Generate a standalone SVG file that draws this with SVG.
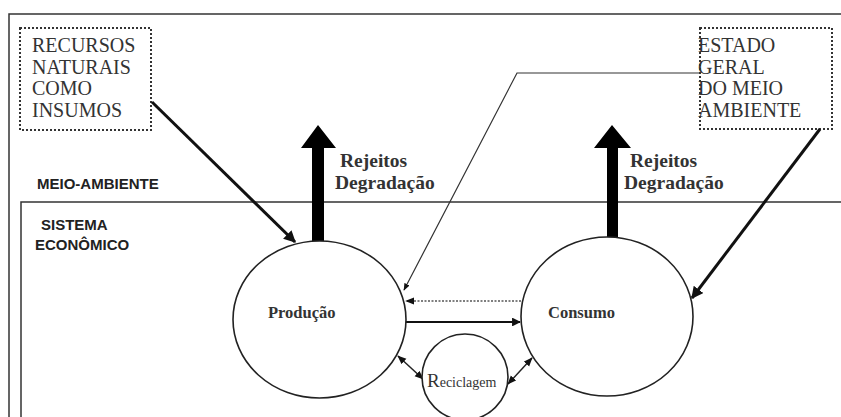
<svg xmlns="http://www.w3.org/2000/svg" width="841" height="417" viewBox="0 0 841 417">
<defs>
<style>
.box{fill:none;stroke:#333;stroke-width:1.5}
.dot{fill:none;stroke:#333;stroke-width:2;stroke-dasharray:2 2}
.node{fill:#fff;stroke:#222;stroke-width:1.6}
.serif{font-family:"Liberation Serif",serif;fill:#333;font-size:20px}
.lbl{font-family:"Liberation Serif",serif;font-weight:bold;fill:#333;font-size:19.5px}
.nl{font-family:"Liberation Serif",serif;font-weight:bold;fill:#333;font-size:16.5px}
.sans{font-family:"Liberation Sans",Arial,sans-serif;font-weight:bold;fill:#222;font-size:15px}
</style>
<marker id="ah" viewBox="0 0 10 10" refX="9" refY="5" markerWidth="4" markerHeight="4" orient="auto-start-reverse"><path d="M0,0 L10,5 L0,10 z" fill="#111"/></marker>
<marker id="ahs" viewBox="0 0 10 10" refX="9" refY="5" markerWidth="6" markerHeight="6" orient="auto-start-reverse"><path d="M0,1 L10,5 L0,9 z" fill="#111"/></marker>
</defs>
<rect width="841" height="417" fill="#fff"/>
<g id="frames">
<path class="box" d="M850,14 H9 V430"/>
<path class="box" d="M850,202 H21 V430"/>
<text class="sans" x="37" y="189">MEIO-AMBIENTE</text>
<text class="sans" x="41" y="230">SISTEMA</text>
<text class="sans" x="35" y="250">ECONÔMICO</text>
</g>
<g id="recursos">
<rect class="dot" x="20" y="28" width="131" height="102"/>
<text class="serif" x="32" y="52">RECURSOS</text>
<text class="serif" x="32" y="74">NATURAIS</text>
<text class="serif" x="32" y="95">COMO</text>
<text class="serif" x="32" y="117">INSUMOS</text>
</g>
<g id="estado">
<rect class="dot" x="700" y="28" width="132" height="101"/>
<text class="serif" x="698" y="52">ESTADO</text>
<text class="serif" x="698" y="74">GERAL</text>
<text class="serif" x="698" y="95">DO MEIO</text>
<text class="serif" x="698" y="117">AMBIENTE</text>
</g>
<g id="connectors">
<path d="M312,241 V148 H301 L318,125 L336,148 H324 V241 Z" fill="#000"/>
<path d="M607,237 V148 H594 L612,125 L631,148 H618 V237 Z" fill="#000"/>
<line x1="152" y1="102" x2="295" y2="242" stroke="#111" stroke-width="3" marker-end="url(#ah)"/>
<line x1="820" y1="129" x2="692" y2="298" stroke="#111" stroke-width="3" marker-end="url(#ah)"/>
<polyline points="699,73 517,73 404,290" fill="none" stroke="#333" stroke-width="1.2" marker-end="url(#ahs)"/>
<line x1="521" y1="301" x2="406" y2="301" stroke="#555" stroke-width="1.5" stroke-dasharray="2 1.5" marker-end="url(#ahs)"/>
<line x1="406" y1="322" x2="520" y2="322" stroke="#111" stroke-width="2.2" marker-end="url(#ah)"/>
<line x1="398" y1="356" x2="423" y2="379" stroke="#222" stroke-width="1.5" marker-start="url(#ahs)" marker-end="url(#ahs)"/>
<line x1="532" y1="358" x2="508" y2="384" stroke="#222" stroke-width="1.5" marker-start="url(#ahs)" marker-end="url(#ahs)"/>
<text class="lbl" x="340" y="167">Rejeitos</text>
<text class="lbl" x="335" y="189">Degradação</text>
<text class="lbl" x="630" y="167">Rejeitos</text>
<text class="lbl" x="624" y="189">Degradação</text>
</g>
<g id="producao">
<ellipse class="node" cx="319.5" cy="319.5" rx="86.5" ry="78.5"/>
<text class="nl" x="268" y="318">Produção</text>
</g>
<g id="consumo">
<ellipse class="node" cx="607" cy="316.5" rx="86" ry="79.5"/>
<text class="nl" x="548" y="318">Consumo</text>
</g>
<g id="reciclagem">
<circle class="node" cx="465" cy="377" r="43"/>
<text class="serif" x="427" y="387"><tspan font-size="19">R</tspan><tspan font-size="14">eciclagem</tspan></text>
</g>
</svg>
